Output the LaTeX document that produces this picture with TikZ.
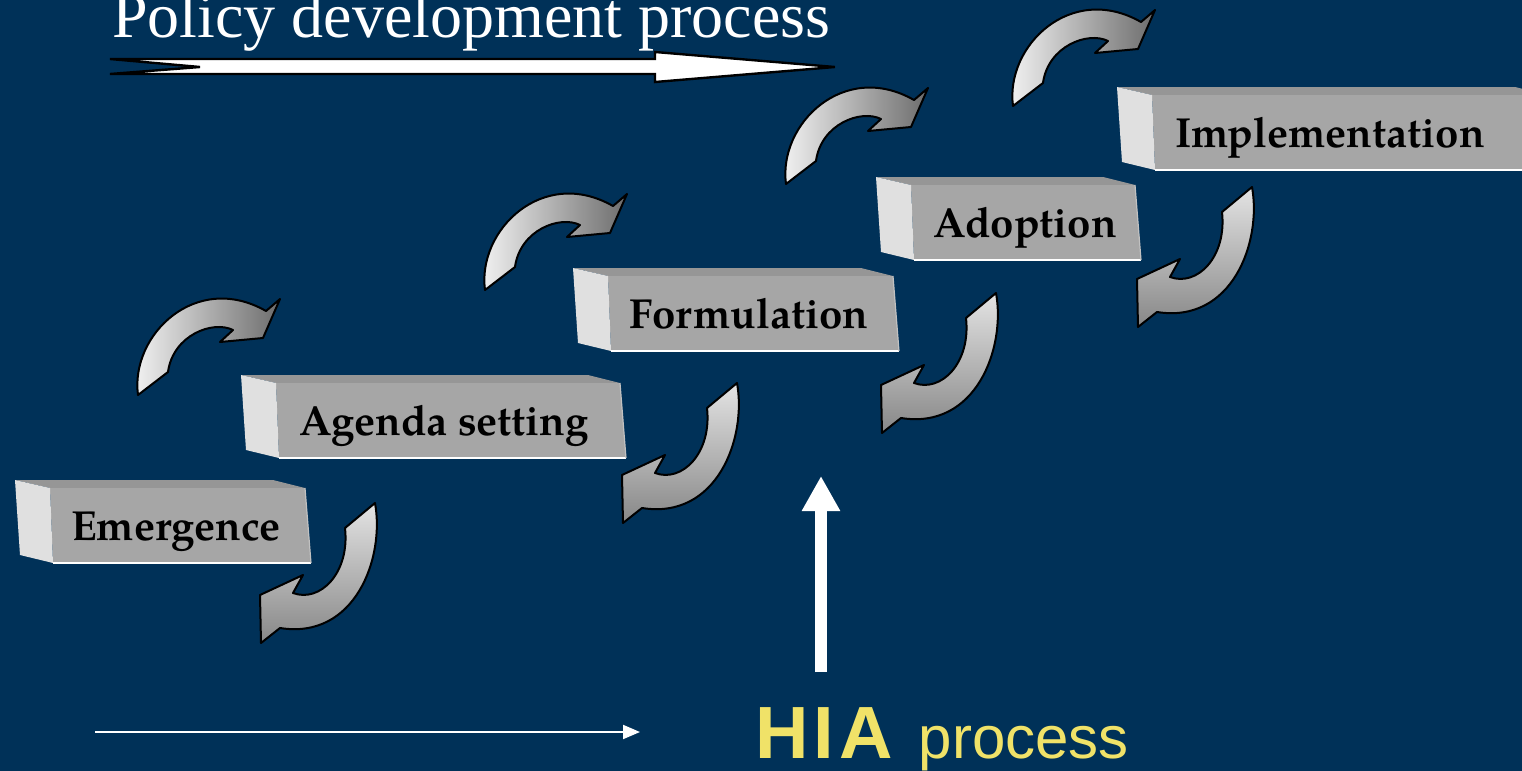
\documentclass[tikz,border=0pt]{standalone}
\usepackage{fontspec}
\usetikzlibrary{arrows.meta}
\setmainfont{Liberation Serif}
\newfontfamily\boxfont{TeX Gyre Pagella}
\newfontfamily\hiafont{Liberation Sans}
\definecolor{bg}{RGB}{0,49,88}
\definecolor{hia}{RGB}{240,226,104}
\definecolor{facefront}{RGB}{166,166,166}
\definecolor{facetop}{RGB}{150,150,150}
\definecolor{faceleft}{RGB}{224,224,224}
\definecolor{arlight}{RGB}{246,246,246}
\definecolor{ardark}{RGB}{108,108,108}
\definecolor{dnlight}{RGB}{228,228,228}
\definecolor{dndark}{RGB}{135,135,135}

% #1 name, #2 left x, #3 top y, #4 width, #5 text x, #6 text
\newcommand\stepblock[6]{%
  \fill[facetop] (#2,#3) -- (#2+#4-32,#3) -- (#2+#4,#3+8) -- (#2+35,#3+8) -- cycle;
  \fill[facefront] (#2+35,#3+8) -- (#2+#4,#3+8) -- (#2+#4+6,#3+83) -- (#2+38,#3+83) -- cycle;
  \fill[faceleft] (#2,#3) -- (#2+35,#3+8) -- (#2+38,#3+83) -- (#2+5,#3+75) -- cycle;
  \draw[white, line width=1pt] (#2+38,#3+83) -- (#2+#4+6,#3+83);
  \draw[facefront!70!white, line width=0.6pt] (#2+#4,#3+8) -- (#2+#4+6,#3+83);
  \node[boxtext] (#1) at (#5,#3+60) {#6};
}
\newcommand\uparr[2]{%
  \begin{scope}[shift={(#1,#2)}]
    \shade[curv, left color=arlight, right color=ardark]
      (0,0) .. controls (-8,-60) and (58,-124) .. (128,-84) -- (142,-96) -- (125,-57)
      -- (82,-53) -- (95,-65) .. controls (75,-75) and (35,-60) .. (30,-23) -- cycle;
  \end{scope}}
\newcommand\dnarr[2]{%
  \begin{scope}[shift={(#1,#2)}]
    \shade[curv, top color=dnlight, bottom color=dndark]
      (0,0) .. controls (10,55) and (-20,137) .. (-95,125) -- (-114,140) -- (-115,92)
      -- (-72,72) -- (-82,90) .. controls (-55,100) and (-25,70) .. (-30,25) -- cycle;
  \end{scope}}

\begin{document}
\begin{tikzpicture}[x=0.5pt,y=-0.5pt,
  boxtext/.style={font=\boxfont\bfseries\fontsize{21}{25}\selectfont, anchor=base, inner sep=0pt, text=black},
  curv/.style={draw=black, line width=1pt, line join=round}]
\fill[bg] (0,0) rectangle (1522,771);
\useasboundingbox (0,0) rectangle (1522,771);

% title and its arrow
\node[anchor=base west, inner sep=0pt, text=white, font=\fontsize{32}{36}\selectfont] (policy) at (112,37) {Policy development process};
\draw[fill=white, draw=black, line width=1.2pt, line join=miter]
  (110,59) -- (655,59) -- (655,52) -- (835,67) -- (655,82) -- (655,74) -- (110,74) -- (200,67) -- cycle;

% curved arrows
\uparr{138}{395}
\uparr{485}{290}
\uparr{786}{184}
\uparr{1013}{106}
\dnarr{375}{503}
\dnarr{737}{383}
\dnarr{996}{293}
\dnarr{1252}{187}

% step blocks
\stepblock{emergence}{15}{480}{290}{176}{Emergence}
\stepblock{agenda}{241}{375}{379}{444}{Agenda setting}
\stepblock{formulation}{573}{268}{320}{749}{Formulation}
\stepblock{adoption}{876}{177}{259}{1025}{Adoption}
\stepblock{implementation}{1117}{87}{430}{1330}{Implementation}

% HIA arrows and label
\coordinate (vs) at (821,672);
\coordinate (ve) at (821,476);
\draw[white, line width=6pt, -{Triangle[length=17.5pt,width=18pt]}] (vs) -- (ve);
\coordinate (hs) at (95,732);
\coordinate (he) at (640,732);
\draw[white, line width=1pt, -{Triangle[length=8.5pt,width=7pt]}] (hs) -- (he);
\node[anchor=base west, inner sep=0pt, text=hia, font=\hiafont] (hia) at (755,758)
  {{\fontsize{37}{40}\selectfont\bfseries H\kern2.5pt I\kern2.5pt A}\kern13pt{\fontsize{30}{34}\selectfont process}};
\end{tikzpicture}
\end{document}
